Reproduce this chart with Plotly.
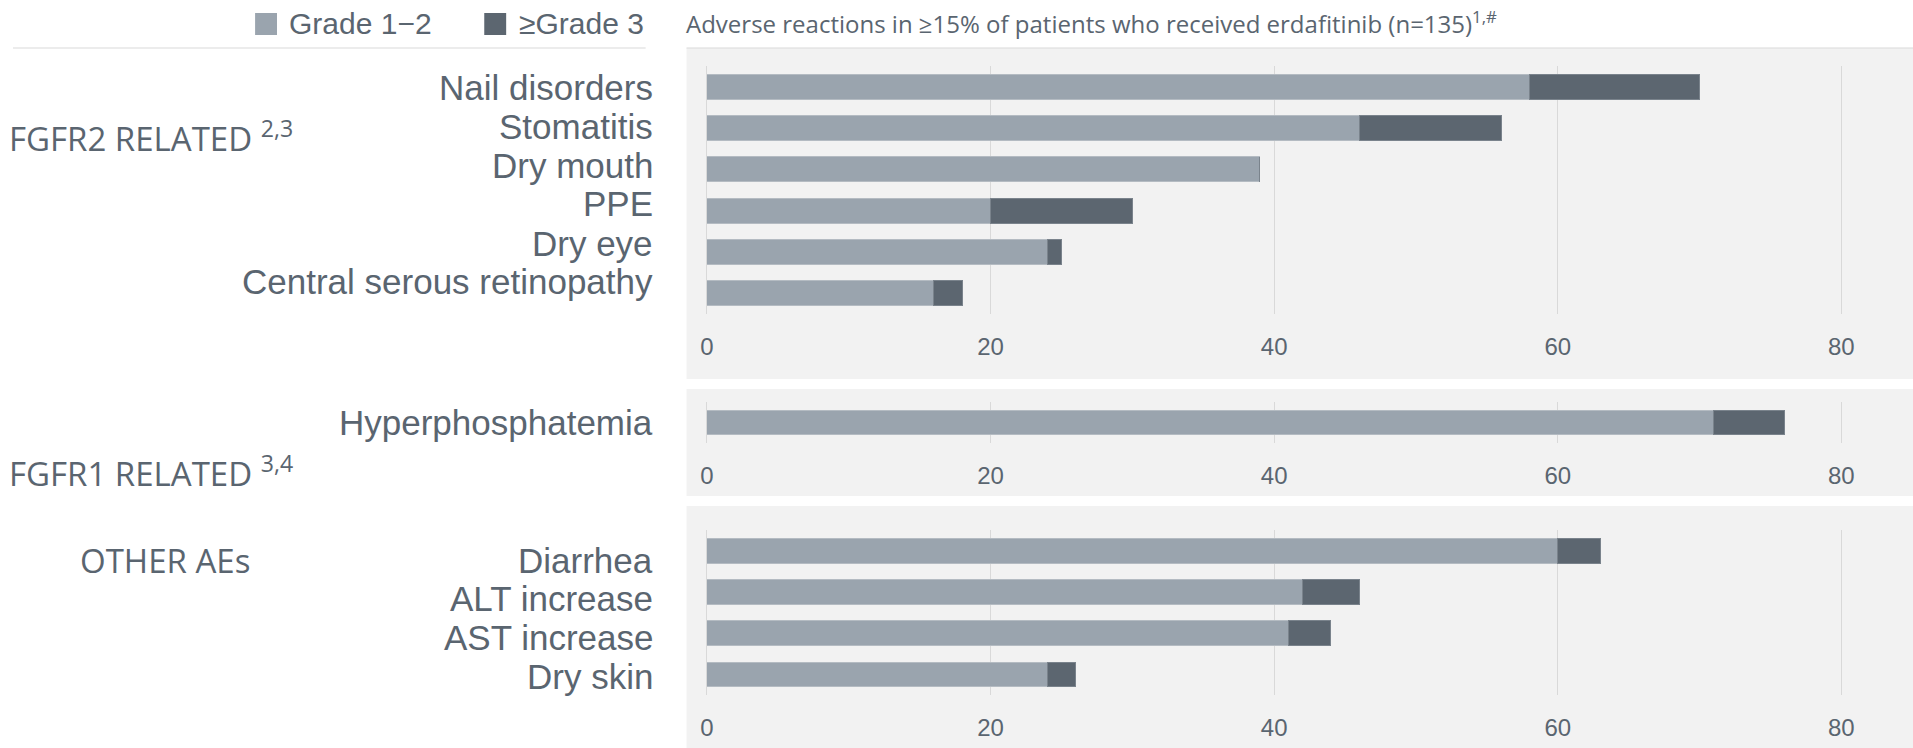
import plotly.graph_objects as go

# values (% of patients)
fgfr2_labels = ["Nail disorders", "Stomatitis", "Dry mouth", "PPE", "Dry eye", "Central serous retinopathy"]
fgfr2_g12 = [58, 46, 39, 20, 24, 16]
fgfr2_g3 = [12, 10, 0, 10, 1, 2]

fgfr1_labels = ["Hyperphosphatemia"]
fgfr1_g12 = [71]
fgfr1_g3 = [5]

other_labels = ["Diarrhea", "ALT increase", "AST increase", "Dry skin"]
other_g12 = [60, 42, 41, 24]
other_g3 = [3, 4, 3, 2]

x_ticks = [0, 20, 40, 60, 80]

W, H = 1913, 748
C_LIGHT = "#9aa4ae"
C_DARK = "#5c6670"
TXT = "#5a6570"
PANEL = "#f2f2f2"
GRID = "#d9d9d9"


def px(x):
    return x / W


def py(y):
    return 1 - y / H


fig = go.Figure()

# plot area (top, bottom) in pixels and where the row labels sit
groups = [
    (fgfr2_labels, fgfr2_g12, fgfr2_g3, (66, 314), [87, 126, 165, 204, 244, 282]),
    (fgfr1_labels, fgfr1_g12, fgfr1_g3, (402, 443), [422]),
    (other_labels, other_g12, other_g3, (530, 695), [560, 598, 637, 676]),
]

annotations = []
for i, (labels, g12, g3, (top, bot), label_y) in enumerate(groups):
    n = "" if i == 0 else str(i + 1)
    fig.add_trace(go.Bar(
        y=labels, x=g12, orientation="h",
        marker=dict(color=C_LIGHT, line=dict(width=1, color="#b4bbc2")),
        name="Grade 1\u22122", xaxis="x" + n, yaxis="y" + n,
        hoverinfo="x+y"
    ))
    fig.add_trace(go.Bar(
        y=labels, x=g3, orientation="h",
        marker=dict(color=C_DARK, line=dict(width=1, color="#7a838c")),
        name="\u2265Grade 3", xaxis="x" + n, yaxis="y" + n,
        hoverinfo="x+y"
    ))
    fig.update_layout(**{
        "xaxis" + n: dict(
            domain=[px(702.5), px(1898)], range=[0, 84],
            tickvals=x_ticks, showgrid=True, gridcolor=GRID, gridwidth=1,
            zeroline=True, zerolinecolor=GRID, zerolinewidth=1,
            showline=False, ticks="", ticklabelstandoff=16,
            tickfont=dict(family="Liberation Sans, Arial", size=24, color=TXT),
            anchor="y" + n, fixedrange=True
        ),
        "yaxis" + n: dict(
            domain=[py(bot), py(top)], type="category",
            categoryorder="array", categoryarray=labels,
            autorange="reversed", showgrid=False, zeroline=False,
            showline=False, ticks="", showticklabels=False,
            anchor="x" + n, fixedrange=True
        ),
    })
    # row labels are set as a separate text column, not quite on the bar centres
    for lab, yy in zip(labels, label_y):
        annotations.append(dict(
            text=lab, x=px(650), y=py(yy), xanchor="right", yanchor="middle",
            font=dict(family="Liberation Sans, Arial", size=35, color=TXT)
        ))

# grey panels behind each chart
panels = [(48, 379), (389, 496), (506, 748)]
shapes = []
for top, bot in panels:
    shapes.append(dict(type="rect", xref="paper", yref="paper",
                       x0=px(682), x1=1, y0=py(bot), y1=py(top),
                       fillcolor=PANEL, line=dict(width=0), layer="below"))
shapes.append(dict(type="line", xref="paper", yref="paper",
                   x0=px(682), x1=1, y0=py(48), y1=py(48),
                   line=dict(color=GRID, width=1)))
shapes.append(dict(type="line", xref="paper", yref="paper",
                   x0=px(6), x1=px(641), y0=py(48), y1=py(48),
                   line=dict(color=GRID, width=1)))

# legend swatches
for x0, col in [(249, C_LIGHT), (479, C_DARK)]:
    shapes.append(dict(type="rect", xref="paper", yref="paper",
                       x0=px(x0), x1=px(x0 + 22), y0=py(35), y1=py(13),
                       fillcolor=col, line=dict(width=0)))

annotations += [
    dict(text="Grade 1\u22122", x=px(281), y=py(23), xanchor="left", yanchor="middle",
         font=dict(family="Liberation Sans, Arial", size=30, color=TXT)),
    dict(text="\u2265Grade 3", x=px(512), y=py(23), xanchor="left", yanchor="middle",
         font=dict(family="Liberation Sans, Arial", size=30, color=TXT)),
    dict(text="Adverse reactions in \u226515% of patients who received erdafitinib (n=135)<sup>1,#</sup>",
         x=px(679), y=py(22), xanchor="left", yanchor="middle",
         font=dict(family="Open Sans", size=24, color=TXT)),
    dict(text="FGFR2 RELATED <sup>2,3</sup>", x=px(0), y=py(136), xanchor="left", yanchor="middle",
         font=dict(family="Open Sans", size=33, color=TXT)),
    dict(text="FGFR1 RELATED <sup>3,4</sup>", x=px(0), y=py(471), xanchor="left", yanchor="middle",
         font=dict(family="Open Sans", size=33, color=TXT)),
    dict(text="OTHER AEs", x=px(71), y=py(560), xanchor="left", yanchor="middle",
         font=dict(family="Open Sans", size=33, color=TXT)),
]
for a in annotations:
    a.update(xref="paper", yref="paper", showarrow=False)

fig.update_layout(
    width=W, height=H,
    margin=dict(l=0, r=0, t=0, b=0),
    barmode="stack", bargap=0.4,
    showlegend=False,
    paper_bgcolor="white", plot_bgcolor="rgba(0,0,0,0)",
    shapes=shapes, annotations=annotations,
)

fig.write_html("out.html", config={"displayModeBar": False},
               post_script="document.body.style.margin='0px';")
